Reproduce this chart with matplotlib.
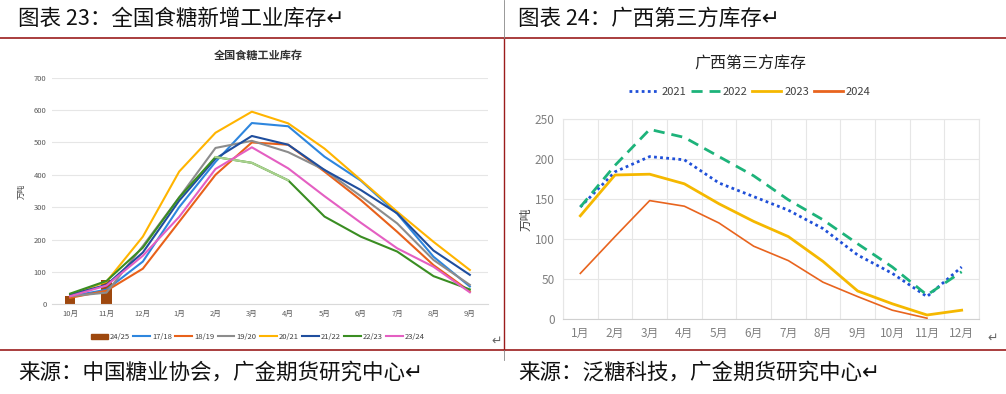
import numpy as np
import matplotlib.pyplot as plt
from matplotlib.lines import Line2D
from matplotlib.patches import Patch

plt.rcParams['font.family'] = ['Noto Sans CJK SC', 'DejaVu Sans']

# ---- left chart data (万吨) ----
months_l = ['10月', '11月', '12月', '1月', '2月', '3月', '4月', '5月', '6月', '7月', '8月', '9月']
bar_2425 = [27, 75]
s1718 = [25, 45, 132, 300, 440, 560, 550, 456, 382, 280, 147, 55]
s1819 = [20, 42, 110, 255, 400, 500, 493, 410, 322, 224, 121, 40]
s1920 = [25, 36, 180, 330, 483, 505, 470, 415, 334, 250, 137, 60]
s2021 = [30, 70, 209, 410, 530, 595, 559, 481, 384, 286, 193, 106]
s2122 = [30, 60, 160, 320, 450, 520, 493, 415, 353, 281, 166, 91]
s2223 = [33, 72, 175, 330, 455, 437, 383, 271, 209, 163, 87, 46]
s2324 = [25, 58, 150, 270, 418, 485, 420, 334, 252, 173, 116, 37]

# ---- right chart data (万吨) ----
months_r = ['1月', '2月', '3月', '4月', '5月', '6月', '7月', '8月', '9月', '10月', '11月', '12月']
g2021 = [140, 184, 203, 199, 170, 153, 136, 113, 80, 57, 28, 65]
g2022 = [140, 192, 237, 227, 203, 179, 149, 124, 94, 65, 30, 59]
g2023 = [129, 180, 181, 169, 144, 122, 103, 72, 35, 19, 5, 11]
g2024 = [57, 103, 148, 141, 120, 91, 73, 46, 28, 11, 1]

W, H = 1006, 394
fig = plt.figure(figsize=(W / 100, H / 100), dpi=100)

def fx(px):
    return px / W

def fy(py):
    return 1 - py / H

red = '#9b1c1c'
# page frame lines
fig.add_artist(Line2D([0, 1], [fy(38), fy(38)], color=red, lw=1.2))
fig.add_artist(Line2D([0, 1], [fy(350), fy(350)], color=red, lw=1.2))
fig.add_artist(Line2D([fx(504), fx(504)], [fy(38), fy(350)], color=red, lw=1.0))
fig.add_artist(Line2D([fx(504), fx(504)], [fy(0), fy(38)], color='#888888', lw=0.6))
fig.add_artist(Line2D([fx(504), fx(504)], [fy(350), fy(360)], color='#888888', lw=0.6))

hfont = 15.5
fig.text(fx(18), fy(19), '图表 23：全国食糖新增工业库存↵', fontsize=hfont, va='center', color='#111111')
fig.text(fx(518), fy(19), '图表 24：广西第三方库存↵', fontsize=hfont, va='center', color='#111111')
fig.text(fx(18), fy(373), '来源：中国糖业协会，广金期货研究中心↵', fontsize=hfont, va='center', color='#111111')
fig.text(fx(518), fy(373), '来源：泛糖科技，广金期货研究中心↵', fontsize=hfont, va='center', color='#111111')
fig.text(fx(497), fy(341), '↵', fontsize=9, ha='center', va='center', color='#666666')
fig.text(fx(993), fy(338), '↵', fontsize=9, ha='center', va='center', color='#666666')

# ---- left chart ----
ax = fig.add_axes([fx(52), fy(304.3), fx(436), (304.3 - 77.7) / H])
x = np.arange(len(months_l))
ax.bar(x[:len(bar_2425)], bar_2425, width=0.28, color='#9e480e', zorder=2)
lw = 1.5
ax.plot(x, s1718, color='#2e86de', lw=lw, zorder=3)
ax.plot(x, s1819, color='#e8611a', lw=lw, zorder=3)
ax.plot(x, s1920, color='#8c8c8c', lw=lw, zorder=3)
ax.plot(x, s2021, color='#ffb400', lw=lw, zorder=3)
ax.plot(x, s2122, color='#1f4e9e', lw=lw, zorder=3)
ax.plot(x, s2223, color='#3a8d22', lw=lw, zorder=3)
ax.plot(x[4:7], s2223[4:7], color='#a9d18e', lw=lw, zorder=3)
ax.plot(x, s2324, color='#e45fc2', lw=lw, zorder=3)
ax.set_xlim(-0.5, 11.5)
ax.set_ylim(0, 700)
ax.set_yticks(range(0, 701, 100))
ax.set_xticks(x)
ax.set_xticklabels(months_l)
ax.tick_params(labelsize=5.5, colors='#595959', length=0, pad=4)
ax.grid(axis='y', color='#e6e6e6', lw=0.8)
ax.set_axisbelow(True)
for s in ax.spines.values():
    s.set_visible(False)
ax.spines['bottom'].set_visible(True)
ax.spines['bottom'].set_color('#d9d9d9')
ax.set_ylabel('万吨', fontsize=5.5, color='#404040', labelpad=6)
fig.text(fx(258), fy(55), '全国食糖工业库存', fontsize=8, weight='bold', ha='center', va='center', color='#333333')

handles = [Patch(color='#9e480e'),
           Line2D([], [], color='#2e86de', lw=1.5),
           Line2D([], [], color='#e8611a', lw=1.5),
           Line2D([], [], color='#8c8c8c', lw=1.5),
           Line2D([], [], color='#ffb400', lw=1.5),
           Line2D([], [], color='#1f4e9e', lw=1.5),
           Line2D([], [], color='#3a8d22', lw=1.5),
           Line2D([], [], color='#e45fc2', lw=1.5)]
labels = ['24/25', '17/18', '18/19', '19/20', '20/21', '21/22', '22/23', '23/24']
fig.legend(handles, labels, loc='center', bbox_to_anchor=(fx(258), fy(337)), ncol=8, fontsize=5.5,
           frameon=False, handlelength=2.2, handletextpad=0.3, columnspacing=0.4,
           labelcolor='#404040')

# ---- right chart ----
ax2 = fig.add_axes([fx(563), fy(319), fx(416), 200 / H])
xr = np.arange(len(months_r))
ax2.plot(xr, g2021, color='#1f4fd8', lw=2, ls=(0, (1, 1.2)), zorder=3)
ax2.plot(xr, g2022, color='#1db37a', lw=2, ls=(0, (4, 2.5)), zorder=3)
ax2.plot(xr, g2023, color='#f5b800', lw=2, zorder=3)
ax2.plot(xr[:len(g2024)], g2024, color='#e8641e', lw=1.2, zorder=3)
ax2.set_xlim(-0.5, 11.5)
ax2.set_ylim(0, 250)
ax2.set_yticks(range(0, 251, 50))
ax2.set_xticks(xr)
ax2.set_xticklabels(months_r)
ax2.set_xticks(np.arange(-0.5, 12, 1), minor=True)
ax2.tick_params(which='both', labelsize=8.5, colors='#808080', length=0, pad=6)
ax2.grid(axis='y', which='major', color='#e6e6e6', lw=0.8)
ax2.grid(axis='x', which='minor', color='#e6e6e6', lw=0.8)
ax2.set_axisbelow(True)
for s in ax2.spines.values():
    s.set_color('#e6e6e6')
ax2.spines['bottom'].set_color('#d0d0d0')
ax2.set_ylabel('万吨', fontsize=8.5, color='#404040', labelpad=2)
fig.text(fx(750), fy(64), '广西第三方库存', fontsize=11.5, ha='center', va='center', color='#222222')

handles2 = [Line2D([], [], color='#1f4fd8', lw=2, ls=(0, (1, 1.2))),
            Line2D([], [], color='#1db37a', lw=2, ls=(0, (4, 2.5))),
            Line2D([], [], color='#f5b800', lw=2),
            Line2D([], [], color='#e8641e', lw=2)]
fig.legend(handles2, ['2021', '2022', '2023', '2024'], loc='center', bbox_to_anchor=(fx(750), fy(92)),
           ncol=4, fontsize=8, frameon=False, handlelength=2.6, handletextpad=0.3, columnspacing=0.4,
           labelcolor='#404040')

fig.savefig('out.png', dpi=100)
